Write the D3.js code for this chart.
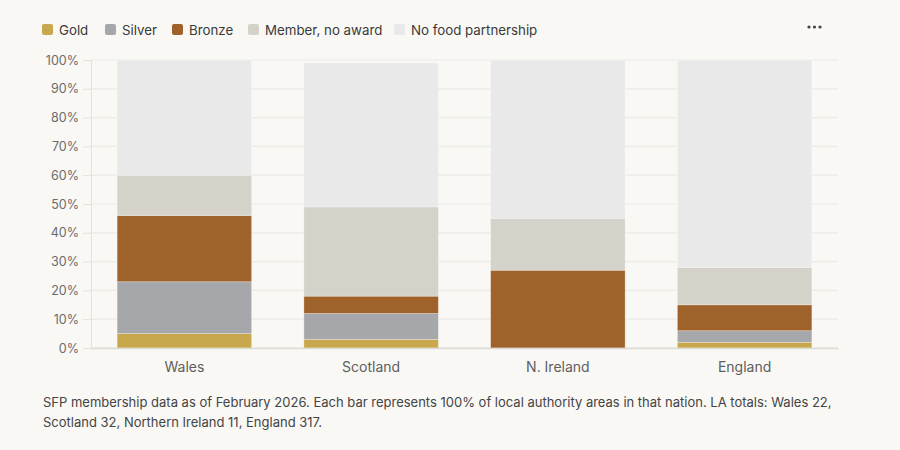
<!DOCTYPE html>
<html>
<head>
<meta charset="utf-8">
<script src="https://cdn.jsdelivr.net/npm/d3@7"></script>
<style>
  html, body { margin: 0; padding: 0; background: #f9f8f5; }
  svg { display: block; font-family: Inter, "Noto Sans", sans-serif; }
</style>
</head>
<body>
<script>
// chart data - percent of LA areas per nation
var nations = ["Wales", "Scotland", "N. Ireland", "England"];
var gold = [5, 3, 0, 2];
var silver = [18, 9, 0, 4];
var bronze = [23, 6, 27, 9];
var member = [14, 31, 18, 13];
var noPartnership = [40, 50, 55, 72];

var seriesNames = ["Gold", "Silver", "Bronze", "Member, no award", "No food partnership"];
var seriesColors = ["#c9a74c", "#a6a7aa", "#9e622a", "#d4d2c9", "#e9e9e9"];
var yTicks = [0, 10, 20, 30, 40, 50, 60, 70, 80, 90, 100];

var captionLines = [
  "SFP membership data as of February 2026. Each bar represents 100% of local authority areas in that nation. LA totals: Wales 22,",
  "Scotland 32, Northern Ireland 11, England 317."
];

var w = 900;
var h = 450;
var margin = {top: 60, right: 62, bottom: 102, left: 91};

// build rows for d3.stack
var rows = nations.map(function(n, i) {
  return {
    nation: n,
    "Gold": gold[i],
    "Silver": silver[i],
    "Bronze": bronze[i],
    "Member, no award": member[i],
    "No food partnership": noPartnership[i]
  };
});

var stacked = d3.stack().keys(seriesNames)(rows);

var svg = d3.select("body")
  .append("svg")
  .attr("width", w)
  .attr("height", h);

svg.append("rect")
  .attr("width", w)
  .attr("height", h)
  .attr("fill", "#f9f8f5");

var x = d3.scaleBand()
  .domain(nations)
  .range([margin.left, w - margin.right])
  .paddingInner(0.28)
  .paddingOuter(0.14);

var y = d3.scaleLinear()
  .domain([0, 100])
  .range([h - margin.bottom, margin.top]);

var color = d3.scaleOrdinal().domain(seriesNames).range(seriesColors);

// gridlines
svg.append("g")
  .selectAll("line")
  .data(yTicks)
  .enter()
  .append("line")
  .attr("x1", margin.left)
  .attr("x2", w - margin.right)
  .attr("y1", function(d) { return y(d); })
  .attr("y2", function(d) { return y(d); })
  .attr("stroke", "#ebeae5")
  .attr("stroke-width", 1.2);

// bars
svg.append("g")
  .selectAll("g")
  .data(stacked)
  .enter()
  .append("g")
  .attr("fill", function(d) { return color(d.key); })
  .selectAll("rect")
  .data(function(d) { return d; })
  .enter()
  .append("rect")
  .attr("x", function(d) { return x(d.data.nation); })
  .attr("width", x.bandwidth())
  .attr("y", function(d) { return y(d[1]); })
  .attr("height", function(d) { return y(d[0]) - y(d[1]); })
  .attr("stroke", "rgba(255,255,255,0.35)")
  .attr("stroke-width", 0.8);

// y axis
var yAxis = svg.append("g")
  .attr("transform", "translate(" + margin.left + ",0)")
  .call(d3.axisLeft(y).tickValues(yTicks).tickSize(8).tickPadding(4).tickFormat(function(d) { return d + "%"; }));
yAxis.select(".domain").attr("stroke", "#e2e1dc");
yAxis.selectAll(".tick line").attr("stroke", "#e2e1dc");
yAxis.selectAll("text").attr("fill", "#6b6b6b").attr("font-size", 12.5).attr("font-family", "Inter, sans-serif");

// x axis
var xAxis = svg.append("g")
  .attr("transform", "translate(0," + (h - margin.bottom) + ")")
  .call(d3.axisBottom(x).tickSize(0).tickPadding(14));
xAxis.select(".domain").attr("stroke", "#dcdbd6").attr("stroke-width", 1.5);
xAxis.selectAll("text").attr("fill", "#5e5e5e").attr("font-size", 14).attr("font-family", "Inter, sans-serif");

// legend
var legendX = [42, 105, 172, 248, 394];
var legend = svg.append("g")
  .selectAll("g")
  .data(seriesNames)
  .enter()
  .append("g")
  .attr("transform", function(d, i) { return "translate(" + legendX[i] + ",24)"; });

legend.append("rect")
  .attr("width", 11)
  .attr("height", 11)
  .attr("rx", 2)
  .attr("fill", function(d) { return color(d); });

legend.append("text")
  .attr("x", 17)
  .attr("y", 10.5)
  .attr("font-size", 13.3)
  .attr("fill", "#3a3a3a")
  .text(function(d) { return d; });

// the little menu dots top right
svg.append("g")
  .selectAll("circle")
  .data([0, 1, 2])
  .enter()
  .append("circle")
  .attr("cx", function(d) { return 809 + d * 5.5; })
  .attr("cy", 27)
  .attr("r", 1.6)
  .attr("fill", "#444");

// caption
svg.append("text")
  .attr("x", 43)
  .attr("y", 407)
  .attr("font-size", 13)
  .attr("fill", "#444")
  .selectAll("tspan")
  .data(captionLines)
  .enter()
  .append("tspan")
  .attr("x", 43)
  .attr("dy", function(d, i) { return i == 0 ? 0 : 20; })
  .text(function(d) { return d; });
</script>
</body>
</html>
